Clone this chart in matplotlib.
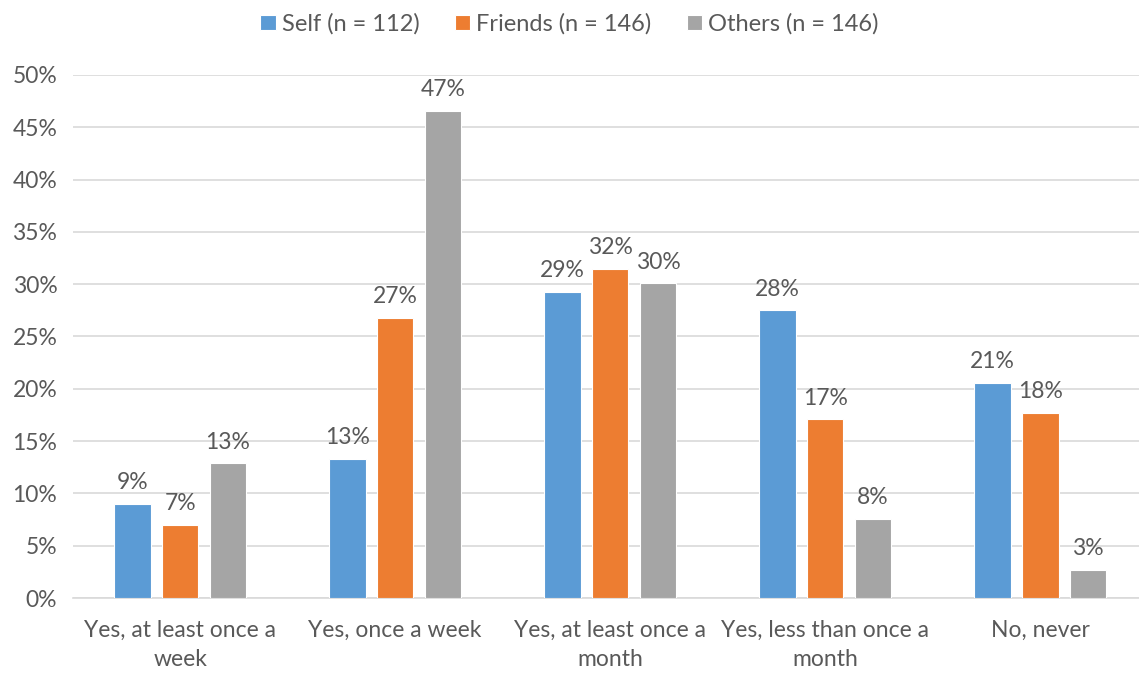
import matplotlib.pyplot as plt
import numpy as np

plt.rcParams['font.family'] = ['Lato', 'DejaVu Sans']

categories = ['Yes, at least once a\nweek', 'Yes, once a week', 'Yes, at least once a\nmonth',
              'Yes, less than once a\nmonth', 'No, never']
series = ['Self (n = 112)', 'Friends (n = 146)', 'Others (n = 146)']
self_vals = [9.0, 13.3, 29.3, 27.5, 20.6]
friends_vals = [7.0, 26.8, 31.5, 17.1, 17.7]
others_vals = [12.9, 46.6, 30.1, 7.6, 2.7]
colors = ['#5b9bd5', '#ed7d31', '#a5a5a5']

txt = '#595959'
fig = plt.figure(figsize=(11.39, 6.73), dpi=100)
ax = fig.add_axes([0.0637, 0.1114, 0.944, 0.7772])

x = np.arange(len(categories))
w = 0.17
step = 0.222
for i, (vals, lab, c) in enumerate(zip([self_vals, friends_vals, others_vals], series, colors)):
    bars = ax.bar(x + (i - 1) * step, vals, w, color=c, label=lab, edgecolor='white', linewidth=0.8, zorder=3)
    for b, v in zip(bars, vals):
        ax.text(b.get_x() + b.get_width() / 2, v + 1.0, f'{v:.0f}%', ha='center', va='bottom',
                fontsize=16.5, color=txt)

ax.set_xlim(-0.5, len(categories) - 0.5)
ax.set_ylim(0, 50)
ax.set_yticks(np.arange(0, 51, 5))
ax.set_yticklabels([f'{t}%' for t in range(0, 51, 5)])
ax.set_xticks(x)
ax.set_xticklabels(categories, linespacing=1.45)
ax.grid(axis='y', color='#d9d9d9', linewidth=1.2, zorder=0)
for s in ['top', 'right', 'left']:
    ax.spines[s].set_visible(False)
ax.spines['bottom'].set_color('#d9d9d9')
ax.spines['bottom'].set_linewidth(1.2)
ax.tick_params(axis='both', length=0, labelsize=16.5, colors=txt)
ax.tick_params(axis='y', pad=11)
ax.tick_params(axis='x', pad=16)

fig.legend(loc='upper center', bbox_to_anchor=(0.5, 1.012), ncol=3, frameon=False, fontsize=17,
           labelcolor=txt, handlelength=0.65, handleheight=0.65, handletextpad=0.25, columnspacing=1.5)

fig.savefig('out.png', dpi=100)
